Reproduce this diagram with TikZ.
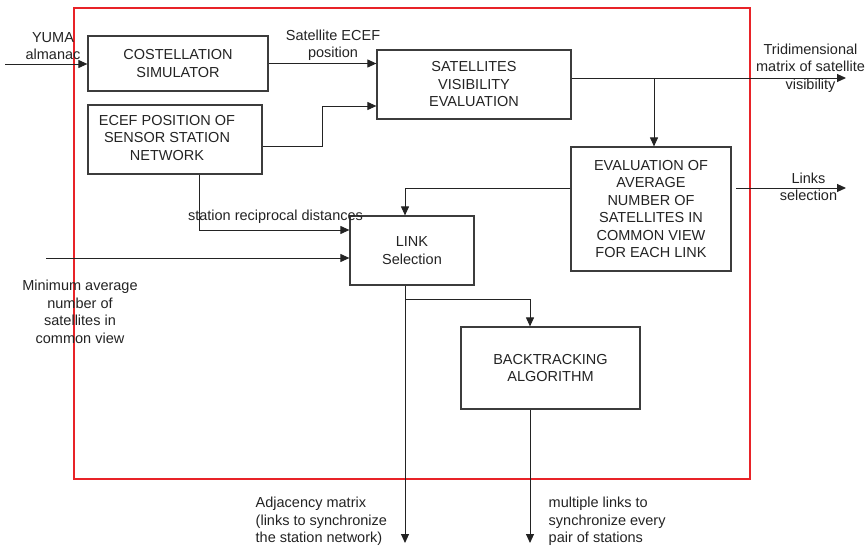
\documentclass[tikz,border=0pt]{standalone}
\usepackage{fontspec}
\setmainfont{Liberation Sans}
\usetikzlibrary{arrows.meta,calc}
\definecolor{redframe}{RGB}{232,35,40}
\definecolor{ink}{RGB}{35,35,35}
\definecolor{boxline}{RGB}{60,60,60}
\tikzset{
  blk/.style={draw=boxline,line width=1.2pt,inner sep=0pt,align=center,text=ink,font=\fontsize{14.5}{17.5}\selectfont},
  lbl/.style={inner sep=0pt,text=ink,font=\fontsize{14.5}{17.5}\selectfont},
  arr/.style={draw=ink,line width=1pt,-{Triangle[length=9pt,width=8pt]}},
  ln/.style={draw=ink,line width=1pt}
}
\begin{document}
\begin{tikzpicture}[x=1pt,y=-1pt]
\useasboundingbox (0,0) rectangle (867,546);
\draw[redframe,line width=1.1pt] (74,8) rectangle (750,479);
% boxes
\node[blk,minimum width=180pt,minimum height=55pt] (cos) at (178,63.5) {COSTELLATION\\SIMULATOR};
\node[blk,minimum width=174pt,minimum height=69pt] (ecef) at (175,139.5) {};
\node[lbl,align=center] (eceftext) at (167,138) {ECEF POSITION OF\\SENSOR STATION\\NETWORK};
\node[blk,minimum width=194pt,minimum height=69pt] (sat) at (474,84.5) {SATELLITES\\VISIBILITY\\EVALUATION};
\node[blk,minimum width=160pt,minimum height=124pt] (eval) at (651,209) {EVALUATION OF\\AVERAGE\\NUMBER OF\\SATELLITES IN\\COMMON VIEW\\FOR EACH LINK};
\node[blk,minimum width=124pt,minimum height=69pt] (link) at (412,250.5) {LINK\\Selection};
\node[blk,minimum width=179pt,minimum height=82pt] (back) at (550.5,368) {BACKTRACKING\\ALGORITHM};
% free ends
\coordinate (yin) at (5,64);
\coordinate (minin) at (46,258);
\coordinate (triout) at (846,78);
\coordinate (lnkout) at (846,188);
\coordinate (adjout) at (405,543);
\coordinate (mulout) at (530,543);
% labels
\node[lbl,align=center] (yuma) at (53,46) {YUMA\\almanac};
\node[lbl,align=center] (sateceflbl) at (333,45.5) {Satellite ECEF\\position};
\node[lbl,align=center] (trilbl) at (810.5,68) {Tridimensional\\matrix of satellite\\visibility};
\node[lbl,align=center] (lnklbl) at (808.5,187) {Links\\selection};
\node[lbl] (distlbl) at (275.5,217) {station reciprocal distances};
\node[lbl,align=center] (minlbl) at (80,312) {Minimum average\\number of\\satellites in\\common view};
\node[lbl,align=left,anchor=west] (adjlbl) at (255.5,521.5) {Adjacency matrix\\(links to synchronize\\the station network)};
\node[lbl,align=left,anchor=west] (mullbl) at (548.5,521.5) {multiple links to\\synchronize every\\pair of stations};
% connectors
\draw[arr] (yin) -- (cos.west |- yin);
\draw[arr] (cos.east) -- (cos.east -| sat.west);
\draw[arr] ([yshift=-6.5pt]ecef.east) -| (322,106) -- (sat.west |- 0,106);
\draw[arr] (sat.east |- triout) -- (triout);
\draw[arr] (654,78) -- (654,0 |- eval.north);
\draw[arr] (736,188) -- (lnkout);
\draw[arr] (eval.west |- 0,188) -| (link.north -| 405,0);
\draw[arr] (ecef.south -| 199,0) |- (link.west |- 0,230);
\draw[arr] (minin) -- (link.west |- minin);
\draw[arr] (link.south -| 405,0) -- (adjout);
\draw[arr] (405,299) -| (back.north -| 530,0);
\draw[arr] (back.south -| 530,0) -- (mulout);
\end{tikzpicture}
\end{document}
